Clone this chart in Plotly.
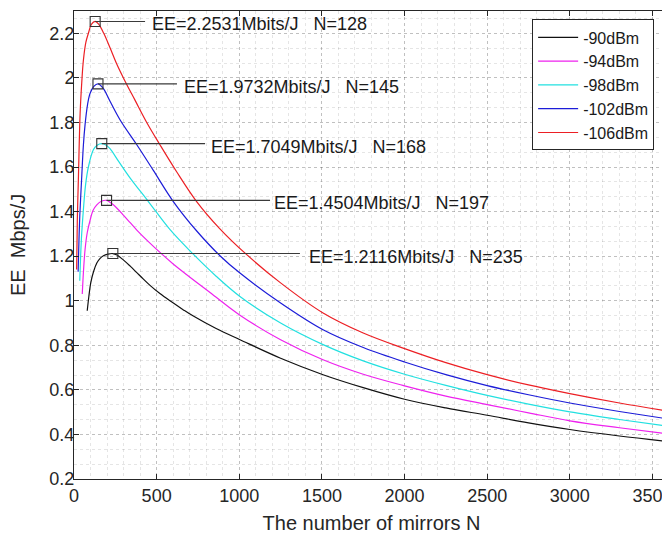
import plotly.graph_objects as go

# ---- data ----
series_names = ["-90dBm", "-94dBm", "-98dBm", "-102dBm", "-106dBm"]
series_colors = ["#111111", "#ee22ee", "#22e0e0", "#1c1cd8", "#ec1f24"]

n_90 = [80, 90, 101, 118, 138, 158, 178, 205, 235, 260, 300, 340, 380, 420, 460, 520,
        590, 660, 722, 860, 1004, 1250, 1507, 1750, 2000, 2250, 2500, 2750, 3000, 3300, 3600]
ee_90 = [0.955, 1.02, 1.079, 1.13, 1.169, 1.19, 1.202, 1.209, 1.2116, 1.205, 1.182, 1.155,
         1.126, 1.097, 1.069, 1.032, 0.995, 0.96, 0.931, 0.875, 0.825, 0.742, 0.668, 0.61,
         0.558, 0.519, 0.486, 0.452, 0.422, 0.393, 0.368]

n_94 = [50, 58, 67, 80, 97, 115, 138, 165, 197, 225, 260, 300, 340, 380, 450, 530, 600,
        680, 823, 1004, 1250, 1507, 1750, 2000, 2250, 2500, 2750, 3000, 3300, 3600]
ee_94 = [1.03, 1.14, 1.23, 1.305, 1.36, 1.405, 1.43, 1.446, 1.4504, 1.438, 1.415, 1.383,
         1.35, 1.317, 1.265, 1.21, 1.165, 1.118, 1.037, 0.935, 0.825, 0.735, 0.67, 0.618,
         0.572, 0.534, 0.497, 0.461, 0.43, 0.402]

n_98 = [35, 45, 57, 70, 87, 117, 140, 168, 195, 218, 270, 340, 450, 580, 720, 860,
        1004, 1250, 1507, 1750, 2000, 2250, 2500, 2750, 3000, 3300, 3600]
ee_98 = [1.09, 1.28, 1.41, 1.52, 1.60, 1.677, 1.698, 1.7049, 1.698, 1.682, 1.625, 1.55,
         1.445, 1.32, 1.21, 1.11, 1.019, 0.90, 0.803, 0.73, 0.670, 0.62, 0.575, 0.536,
         0.501, 0.467, 0.436]

n_102 = [25, 30, 35, 47, 57, 67, 82, 97, 120, 145, 175, 218, 280, 380, 480, 601, 740,
         883, 1004, 1250, 1507, 1750, 2000, 2250, 2500, 2750, 3000, 3300, 3600]
ee_102 = [1.13, 1.27, 1.38, 1.56, 1.70, 1.79, 1.88, 1.93, 1.962, 1.9732, 1.955, 1.895,
          1.81, 1.70, 1.585, 1.445, 1.315, 1.202, 1.124, 0.99, 0.870, 0.79, 0.725,
          0.668, 0.619, 0.578, 0.541, 0.503, 0.469]

n_106 = [16, 20, 27, 37, 47, 57, 72, 87, 105, 128, 150, 180, 218, 260, 309, 369, 440,
         520, 620, 742, 880, 1040, 1250, 1507, 1750, 2000, 2250, 2500, 2750, 3000,
         3300, 3600]
ee_106 = [1.14, 1.36, 1.56, 1.84, 1.98, 2.08, 2.16, 2.20, 2.24, 2.2531, 2.24, 2.20,
          2.135, 2.06, 1.985, 1.90, 1.80, 1.70, 1.58, 1.445, 1.325, 1.21, 1.08, 0.945,
          0.855, 0.785, 0.722, 0.668, 0.622, 0.583, 0.541, 0.504]

series_n = [n_90, n_94, n_98, n_102, n_106]
series_ee = [ee_90, ee_94, ee_98, ee_102, ee_106]

peak_n = [235, 197, 168, 145, 128]
peak_ee = [1.2116, 1.4504, 1.7049, 1.9732, 2.2531]
label_line_end = [1367, 1186, 793, 623, 430]
label_text_x = [1408, 1195, 819, 652, 458]

x_ticks = [0, 500, 1000, 1500, 2000, 2500, 3000, 3500]
y_ticks = [0.2, 0.4, 0.6, 0.8, 1.0, 1.2, 1.4, 1.6, 1.8, 2.0, 2.2]
y_tick_labels = ["0.2", "0.4", "0.6", "0.8", "1", "1.2", "1.4", "1.6", "1.8", "2", "2.2"]

FONT = "Liberation Sans, Arial, sans-serif"
AX = "#262626"

fig = go.Figure()
for name, color, xs, ys in zip(series_names, series_colors, series_n, series_ee):
    fig.add_trace(go.Scatter(x=xs, y=ys, mode="lines", name=name,
                             line=dict(color=color, width=1.2, shape="spline", smoothing=1.0)))

fig.add_trace(go.Scatter(x=peak_n, y=peak_ee, mode="markers", showlegend=False,
                         marker=dict(symbol="square-open", size=10, color="#333333",
                                     line=dict(width=1.1, color="#333333"))))

for pn, pe, le, tx in zip(peak_n, peak_ee, label_line_end, label_text_x):
    fig.add_shape(type="line", x0=pn, y0=pe, x1=le, y1=pe, xref="x", yref="y",
                  line=dict(color="#3a3a3a", width=1.1))
    fig.add_annotation(x=tx, y=pe, xref="x", yref="y", xanchor="left", yanchor="middle",
                       text=f"EE={pe:.4f}Mbits/J   N={pn}", showarrow=False,
                       font=dict(family=FONT, size=18, color="#1a1a1a"), yshift=-3)

# y-axis title placed as rotated paper text
fig.add_annotation(text="EE  Mbps/J", xref="paper", yref="paper", x=-0.094, y=0.5,
                   xanchor="center", yanchor="middle", textangle=-90, showarrow=False,
                   font=dict(family=FONT, size=20, color=AX))

# the page body adds an 8px offset; figure is sized so the plot box lands where the reference has it
fig.update_layout(
    width=662, height=530,
    margin=dict(l=66, r=1, t=3, b=59, autoexpand=False),
    paper_bgcolor="white", plot_bgcolor="white",
    font=dict(family=FONT, color=AX),
    legend=dict(x=0.975, y=0.982, xanchor="right", yanchor="top",
                bgcolor="white", bordercolor=AX, borderwidth=1,
                font=dict(family=FONT, size=16, color="#1a1a1a"),
                tracegroupgap=0, itemwidth=40,
                entrywidth=88, entrywidthmode="pixels"),
    showlegend=True,
)

grid_major = "rgba(0,0,0,0.16)"
grid_minor = "rgba(0,0,0,0.10)"

fig.update_xaxes(range=[0, 3600], tickvals=x_ticks, ticks="inside", ticklen=5,
                 tickcolor=AX, linecolor=AX, linewidth=1, mirror="ticks",
                 ticklabeloverflow="allow",
                 showgrid=True, gridcolor=grid_major, griddash="dot", gridwidth=1,
                 minor=dict(dtick=100, showgrid=True, gridcolor=grid_minor,
                            griddash="dot", ticks=""),
                 tickfont=dict(family=FONT, size=18, color=AX),
                 title=dict(text="The number of mirrors N", font=dict(family=FONT, size=20, color=AX),
                            standoff=11),
                 automargin=False, zeroline=False)

fig.update_yaxes(range=[0.2, 2.3], tickvals=y_ticks, ticktext=y_tick_labels,
                 ticks="inside", ticklen=5, ticklabelstandoff=-5,
                 tickcolor=AX, linecolor=AX, linewidth=1, mirror="ticks",
                 showgrid=True, gridcolor=grid_major, griddash="dot", gridwidth=1,
                 minor=dict(tick0=0.2, dtick=0.2 / 3, showgrid=True, gridcolor=grid_minor,
                            griddash="dot", ticks=""),
                 tickfont=dict(family=FONT, size=18, color=AX),
                 automargin=False, zeroline=False)

fig.write_html("out.html")
